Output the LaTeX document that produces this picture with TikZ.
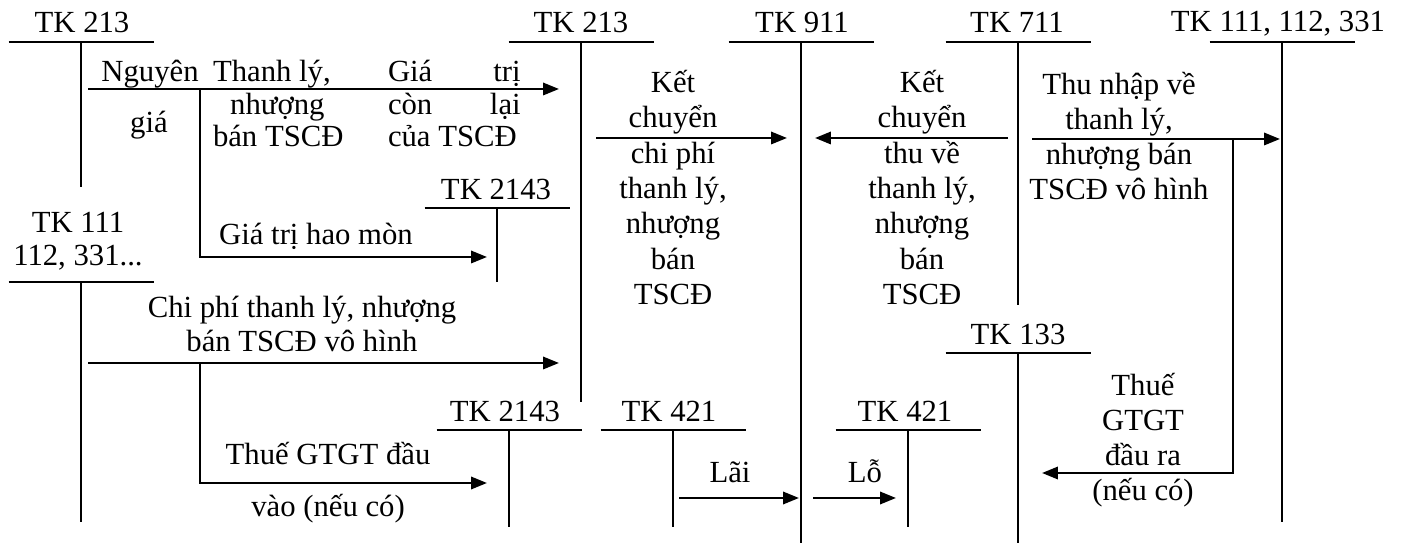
\documentclass[tikz,border=0pt]{standalone}
\usepackage{fontspec}
\setmainfont{Liberation Serif}
\usetikzlibrary{arrows.meta}
\newcommand\notestrut{\rule{0pt}{10pt}}
\tikzset{
  tline/.style={line width=0.75pt},
  flow/.style={line width=1pt,-{Triangle[length=6.5pt,width=5pt]}},
  tkname/.style={anchor=base,inner sep=0pt,outer sep=0pt,font=\fontsize{12.5}{14}\selectfont},
  note/.style={anchor=north,yshift=10pt,inner sep=0pt,outer sep=0pt,align=center,
    font=\fontsize{12.5}{14.37}\selectfont,execute at begin node=\notestrut}
}

\begin{document}
\begin{tikzpicture}[x=0.407pt,y=-0.407pt]
  \useasboundingbox (0,0) rectangle (1406,543);
  % T accounts: stem x / bar y / foot y
  \foreach \sx/\by/\fy in {81/42/187, 581/42/402, 801/42/543, 1018/42/305, 1282/42/522,
      497/208/282, 81/282/522, 509/430/527, 673/430/527, 908/430/527, 1018/353/543}{
    \draw[tline] (\sx-72.5,\by) -- (\sx+72.5,\by);
    \draw[tline] (\sx,\by) -- (\sx,\fy);
  }
  \node[tkname] (tk213a) at (82,33) {TK 213};
  \node[tkname] (tk213b) at (581,33) {TK 213};
  \node[tkname] (tk911) at (802,33) {TK 911};
  \node[tkname] (tk711) at (1017,33) {TK 711};
  \node[tkname] (tk111b) at (1278,32) {TK 111, 112, 331};
  \node[tkname] (tk2143a) at (496,200) {TK 2143};
  \node[note,font=\fontsize{12.5}{13.4}\selectfont] (tk111a) at (78,237) {TK 111\\112, 331...};
  \node[tkname] (tk2143b) at (505,422) {TK 2143};
  \node[tkname] (tk421a) at (669,422) {TK 421};
  \node[tkname] (tk421b) at (905,422) {TK 421};
  \node[tkname] (tk133) at (1018,345) {TK 133};

  % arrow ends
  \coordinate (nga) at (88,89);    \coordinate (ngb) at (559,89);
  \coordinate (hma) at (200,89);   \coordinate (hmb) at (487,257);
  \coordinate (kca) at (596,138);  \coordinate (kcb) at (787,138);
  \coordinate (kta) at (1008,138); \coordinate (ktb) at (815,138);
  \coordinate (tna) at (1032,139); \coordinate (tnb) at (1280,139);
  \coordinate (gta) at (1233,139); \coordinate (gtb) at (1042,473);
  \coordinate (cpa) at (88,363);   \coordinate (cpb) at (559,363);
  \coordinate (tva) at (200,363);  \coordinate (tvb) at (487,483);
  \coordinate (laa) at (679,498);  \coordinate (lab) at (799,498);
  \coordinate (loa) at (813,498);  \coordinate (lob) at (896,498);

  \draw[flow] (nga) -- (ngb);
  \draw[flow] (hma) |- (hmb);
  \draw[flow] (kca) -- (kcb);
  \draw[flow] (kta) -- (ktb);
  \draw[flow] (tna) -- (tnb);
  \draw[flow] (gta) |- (gtb);
  \draw[flow] (cpa) -- (cpb);
  \draw[flow] (tva) |- (tvb);
  \draw[flow] (laa) -- (lab);
  \draw[flow] (loa) -- (lob);

  % texts on the arrows
  \node[note] (ngl) at (150,82) {Nguyên};
  \node[note] (gial) at (149,133) {giá};
  \node[note,anchor=north west,text width=58pt,align=flush left,font=\fontsize{12.5}{13.2}\selectfont] (tll) at (213,82)
    {Thanh lý,\\\hspace*{7pt}nhượng\\bán TSCĐ};
  \node[note,anchor=north west,text width=54pt,align=flush left,font=\fontsize{12.5}{13.2}\selectfont] (gcl) at (388,82)
    {Giá\hspace{\fill}trị\\còn\hspace{\fill}lại\\của TSCĐ};
  \node[note] (hml) at (316,245) {Giá trị hao mòn};
  \node[note] (kcl) at (673,95) {Kết\\chuyển\\chi phí\\thanh lý,\\nhượng\\bán\\TSCĐ};
  \node[note] (ktl) at (922,95) {Kết\\chuyển\\thu về\\thanh lý,\\nhượng\\bán\\TSCĐ};
  \node[note,font=\fontsize{12.5}{14.24}\selectfont] (tnl) at (1119,97)
    {Thu nhập về\\thanh lý,\\nhượng bán\\TSCĐ vô hình};
  \node[note,font=\fontsize{12.5}{13.8}\selectfont] (cpl) at (302,321)
    {Chi phí thanh lý, nhượng\\bán TSCĐ vô hình};
  \node[note] (tvl) at (328,465) {Thuế GTGT đầu};
  \node[note] (tvm) at (328,517) {vào (nếu có)};
  \node[note] (lail) at (730,483) {Lãi};
  \node[note] (lol) at (865,483) {Lỗ};
  \node[note,font=\fontsize{12.5}{14.24}\selectfont] (gtl) at (1143,398)
    {Thuế\\GTGT\\đầu ra\\(nếu có)};
\end{tikzpicture}
\end{document}
